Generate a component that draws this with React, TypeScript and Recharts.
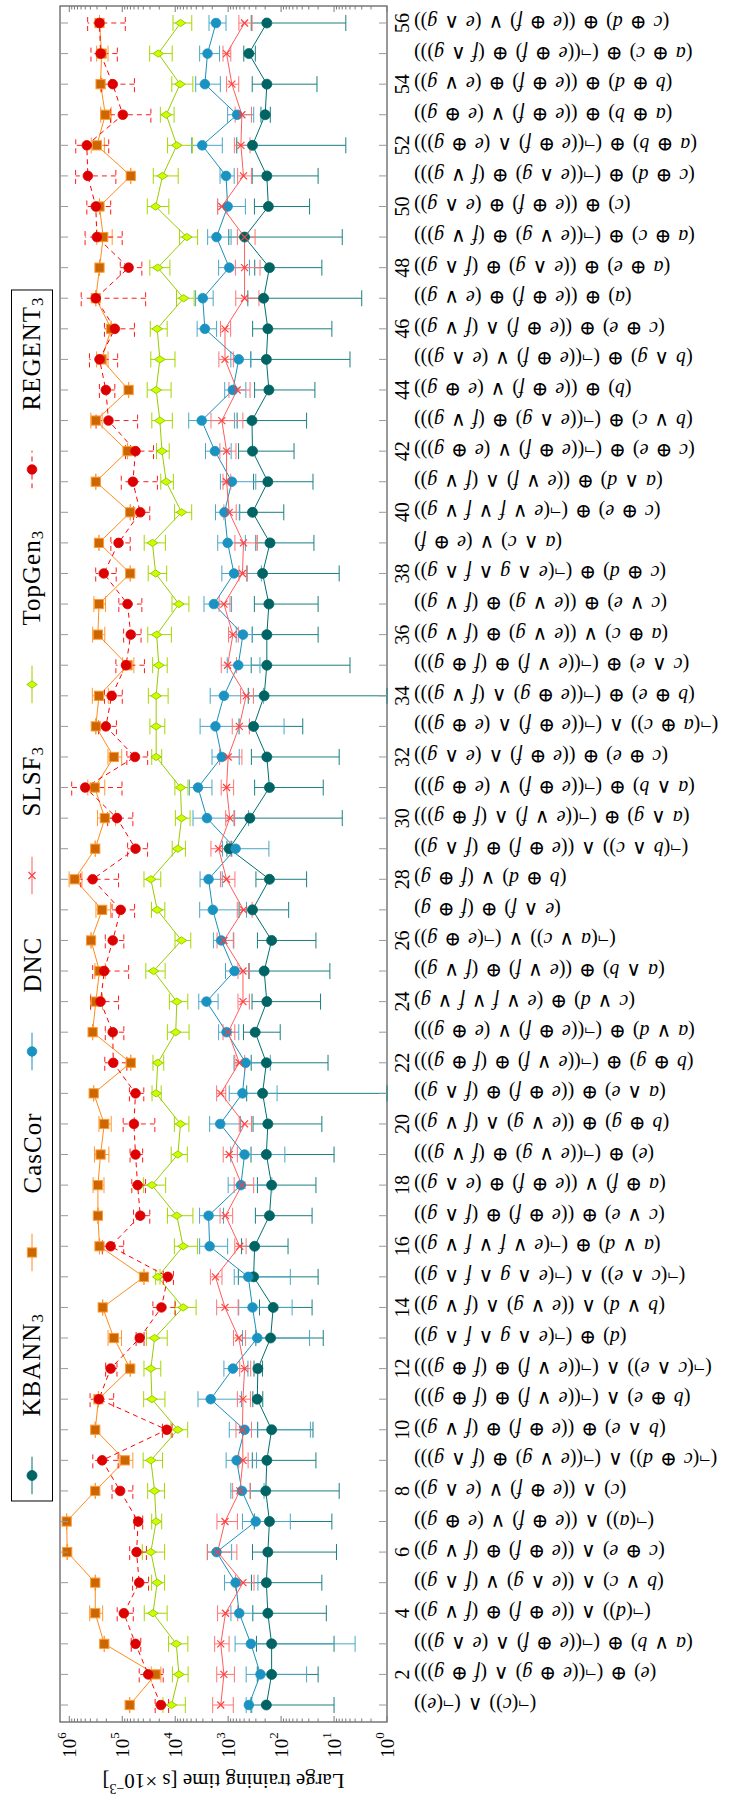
import React from 'react';
import { ComposedChart, Line, XAxis, YAxis, ErrorBar, Legend, Customized } from 'recharts';

// formulas for categories 1..56 (original reading order, drawn upside down as in the figure)
const formulas = [
  '(¬(c)) ∧ (¬(e))',
  '(e) ⊕ (¬((e ⊕ g) ∧ (f ⊕ g)))',
  '(a ∨ b) ⊕ (¬((e ⊕ f) ∧ (e ∧ g)))',
  '(¬(d)) ∧ ((e ⊕ f) ⊕ (f ∨ g))',
  '(b ∨ c) ∧ ((e ∧ g) ∨ (f ∧ g))',
  '(c ⊕ e) ∧ ((e ⊕ f) ⊕ (f ∨ g))',
  '(¬(a)) ∧ ((e ⊕ f) ∨ (e ⊕ g))',
  '(c) ∧ ((e ⊕ f) ∨ (e ∧ g))',
  '(¬(c ⊕ d)) ∧ (¬((e ∨ g) ⊕ (f ∧ g)))',
  '(b ∧ e) ⊕ ((e ⊕ f) ⊕ (f ∨ g))',
  '(b ⊕ e) ∧ (¬((e ∨ f) ⊕ (f ⊕ g)))',
  '(¬(c ∧ e)) ∧ (¬((e ∨ f) ⊕ (f ⊕ g)))',
  '(d) ⊕ (¬(e ∧ g ∧ f ∧ g))',
  '(b ∨ d) ∧ ((e ∨ g) ∧ (f ∨ g))',
  '(¬(c ∧ e)) ∧ (¬(e ∧ g ∧ f ∧ g))',
  '(a ∨ d) ⊕ (¬(e ∨ f ∨ f ∨ g))',
  '(c ∨ e) ⊕ ((e ⊕ f) ⊕ (f ∧ g))',
  '(a ⊕ f) ∨ ((e ⊕ f) ⊕ (e ∧ g))',
  '(e) ⊕ (¬((e ∨ g) ⊕ (f ∨ g)))',
  '(b ⊕ g) ⊕ ((e ∨ g) ∧ (f ∨ g))',
  '(a ∧ e) ⊕ ((e ⊕ f) ⊕ (f ∧ g))',
  '(b ⊕ g) ⊕ (¬((e ∨ f) ⊕ (f ⊕ g)))',
  '(a ∨ d) ⊕ (¬((e ⊕ f) ∨ (e ⊕ g)))',
  '(c ∨ d) ⊕ (e ∨ f ∨ f ∨ g)',
  '(a ∧ b) ⊕ ((e ∨ f) ⊕ (f ∨ g))',
  '(¬(a ∨ c)) ∨ (¬(e ⊕ g))',
  '(e ∧ f) ⊕ (f ⊕ g)',
  '(b ⊕ d) ∨ (f ⊕ g)',
  '(¬(b ∧ c)) ∧ ((e ⊕ f) ⊕ (f ∧ g))',
  '(a ∧ g) ⊕ (¬((e ∨ f) ∧ (f ⊕ g)))',
  '(a ∧ b) ⊕ (¬((e ⊕ f) ∨ (e ⊕ g)))',
  '(c ⊕ e) ⊕ ((e ⊕ f) ∧ (e ∧ g))',
  '(¬(a ⊕ c)) ∧ (¬((e ⊕ f) ∧ (e ⊕ g)))',
  '(b ⊕ e) ⊕ (¬((e ⊕ g) ∧ (f ∨ g)))',
  '(c ∧ e) ⊕ (¬((e ∨ f) ⊕ (f ⊕ g)))',
  '(a ⊕ c) ∨ ((e ∨ g) ⊕ (f ∨ g))',
  '(c ∨ e) ⊕ ((e ∨ g) ⊕ (f ∨ g))',
  '(c ⊕ d) ⊕ (¬(e ∧ g ∧ f ∧ g))',
  '(a ∧ c) ∨ (e ⊕ f)',
  '(c ⊕ e) ⊕ (¬(e ∨ f ∨ f ∨ g))',
  '(a ∧ d) ⊕ ((e ∨ f) ∧ (f ∨ g))',
  '(c ⊕ e) ⊕ (¬((e ⊕ f) ∨ (e ⊕ g)))',
  '(b ∨ c) ⊕ (¬((e ∧ g) ⊕ (f ∨ g)))',
  '(b) ⊕ ((e ⊕ f) ∨ (e ⊕ g))',
  '(b ∧ g) ⊕ (¬((e ⊕ f) ∨ (e ∧ g)))',
  '(c ⊕ e) ⊕ ((e ⊕ f) ∧ (f ∨ g))',
  '(a) ⊕ ((e ⊕ f) ⊕ (e ∨ g))',
  '(a ⊕ e) ⊕ ((e ∧ g) ⊕ (f ∧ g))',
  '(a ⊕ c) ⊕ (¬((e ∨ g) ⊕ (f ∨ g)))',
  '(c) ⊕ ((e ⊕ f) ⊕ (e ∧ g))',
  '(c ⊕ d) ⊕ (¬((e ∧ g) ⊕ (f ∨ g)))',
  '(a ⊕ b) ⊕ (¬((e ⊕ f) ∧ (e ⊕ g)))',
  '(a ⊕ b) ⊕ ((e ⊕ f) ∨ (e ⊕ g))',
  '(b ⊕ d) ⊕ ((e ⊕ f) ⊕ (e ∨ g))',
  '(a ⊕ c) ⊕ (¬((e ⊕ f) ⊕ (f ∧ g)))',
  '(c ⊕ d) ⊕ ((e ⊕ f) ∨ (e ∧ g))',
];

// mean training time and standard deviation per category
const kbannMean = [190, 151, 151, 178, 190, 178, 166, 195, 186, 151, 282, 275, 158, 141, 331, 316, 166, 151, 190, 178, 224, 190, 309, 186, 209, 151, 347, 166, 955, 389, 166, 186, 331, 209, 186, 186, 170, 224, 162, 347, 178, 347, 355, 170, 190, 178, 214, 166, 490, 174, 186, 347, 200, 186, 407, 186];
const kbannStd = [180, 131, 141, 164, 173, 169, 155, 187, 164, 126, 60, 50, 142, 115, 311, 242, 140, 129, 180, 161, 223, 177, 205, 168, 197, 129, 275, 133, 100, 382, 150, 178, 292, 208, 181, 166, 150, 216, 138, 258, 153, 290, 322, 147, 185, 167, 211, 149, 483, 145, 166, 341, 40, 165, 100, 180];

const cascorMean = [72440, 23440, 218800, 323600, 323600, 1096000, 1122000, 323600, 89130, 323600, 281800, 70790, 144500, 234400, 38900, 269200, 288400, 288400, 257000, 218800, 346700, 69180, 363100, 316200, 269200, 389000, 239900, 794300, 323600, 213800, 331100, 144500, 316200, 275400, 79430, 288400, 275400, 70790, 275400, 70790, 316200, 79430, 316200, 75860, 245500, 162200, 316200, 269200, 229100, 269200, 69180, 302000, 208900, 257000, 245500, 269200];
const cascorStd = [0, 4820, 0, 89000, 0, 0, 0, 0, 26000, 0, 0, 0, 41000, 0, 0, 0, 0, 67000, 78000, 57000, 0, 0, 0, 80000, 60000, 0, 74000, 217000, 0, 80000, 117000, 42000, 0, 92000, 19000, 74600, 68000, 0, 0, 0, 0, 0, 76000, 0, 60000, 0, 0, 0, 74000, 0, 0, 84000, 46700, 0, 60000, 0];

const dncMean = [407, 245, 372, 617, 724, 1660, 302, 550, 692, 490, 2138, 813, 282, 347, 417, 2239, 2344, 575, 490, 1413, 537, 468, 1072, 2570, 759, 1349, 1950, 2344, 724, 2512, 3715, 1318, 1738, 1202, 646, 525, 1862, 776, 1023, 1175, 851, 1778, 3162, 813, 631, 2754, 3020, 955, 1660, 1023, 1096, 3090, 676, 2754, 2455, 1698];
const dncStd = [50, 212, 368, 270, 450, 800, 235, 340, 400, 462, 1577, 390, 253, 285, 350, 1216, 1120, 425, 405, 826, 418, 308, 442, 1020, 363, 550, 1500, 1050, 554, 2100, 1690, 700, 1650, 986, 395, 178, 1000, 540, 550, 560, 550, 900, 2400, 350, 259, 1100, 1100, 559, 780, 550, 327, 1800, 347, 1350, 1000, 600];

const slsfMean = [1380, 1202, 1380, 1122, 525, 1585, 1148, 603, 525, 537, 525, 490, 631, 1148, 1738, 603, 1122, 550, 955, 490, 1380, 617, 1000, 525, 525, 1202, 513, 1072, 1514, 933, 1072, 1000, 617, 457, 1023, 813, 1202, 537, 513, 955, 1072, 1072, 1318, 676, 1148, 1148, 490, 490, 490, 1318, 513, 575, 550, 851, 1072, 490];
const slsfStd = [580, 440, 420, 462, 200, 900, 480, 220, 105, 175, 145, 115, 163, 500, 430, 145, 300, 220, 285, 128, 270, 130, 250, 127, 128, 420, 160, 327, 600, 180, 283, 450, 220, 124, 327, 170, 280, 89, 232, 250, 180, 360, 790, 290, 350, 250, 228, 240, 180, 270, 150, 188, 188, 220, 180, 137];

const topgenMean = [11750, 8511, 9550, 26300, 21880, 28840, 22900, 24550, 28840, 8913, 27540, 28840, 24550, 7079, 21380, 7079, 9333, 27540, 8913, 7943, 22900, 21380, 9772, 9333, 25700, 7586, 21880, 28840, 8913, 7586, 7943, 22900, 22900, 22900, 20420, 22390, 8511, 23440, 26920, 7586, 14790, 17780, 19500, 22900, 19500, 21880, 6918, 21380, 6026, 23440, 17380, 9333, 14790, 8128, 20890, 7943];
const topgenStd = [5300, 2800, 3780, 12100, 6000, 13000, 4900, 8600, 11500, 3100, 11900, 10100, 10400, 3050, 2000, 3300, 4700, 12400, 3000, 2430, 4500, 4900, 4300, 3550, 10200, 2500, 6200, 10100, 2500, 2350, 2200, 4880, 7170, 9280, 6260, 10570, 3000, 8950, 11600, 2700, 3950, 4800, 8160, 10950, 9400, 7700, 2530, 8800, 2250, 10260, 8600, 4600, 4300, 3480, 9490, 3075];

const regentMean = [18620, 32360, 56230, 93330, 47860, 53700, 50120, 109600, 239900, 14450, 275400, 166000, 46770, 18200, 13800, 166000, 45710, 51290, 56230, 60260, 56230, 147900, 151400, 257000, 218800, 151400, 107200, 363100, 56230, 125900, 501200, 57540, 204200, 158500, 85110, 69180, 79430, 223900, 117500, 45710, 63100, 56230, 182000, 204200, 269200, 138000, 316200, 75860, 302000, 316200, 446700, 467700, 97720, 151400, 257000, 269200];
const regentStd = [5300, 15500, 11500, 31400, 16000, 18700, 9000, 46500, 120000, 3000, 130000, 40000, 8000, 8200, 3000, 72000, 15500, 14780, 15000, 36000, 17000, 65900, 58000, 139500, 143000, 58000, 48700, 245600, 23000, 62800, 400000, 24400, 75400, 58500, 47000, 25000, 36770, 93700, 46700, 15500, 41400, 30500, 130700, 66000, 147000, 79100, 280000, 33200, 201700, 150800, 314500, 287600, 68900, 92500, 133000, 181500];

const majorTicks = [1, 10, 100, 1000, 10000, 100000, 1000000];
const tickExponents = ['0', '1', '2', '3', '4', '5', '6'];
const valueTicks = majorTicks.flatMap((t, i) =>
  i < majorTicks.length - 1 ? [1, 2, 3, 4, 5, 6, 7, 8, 9].map((k) => k * t) : [t]
);

const W = 731;
const H = 1802;
const PLOT = { left: 60, right: 387, top: 6, bottom: 1722 };
const FONT = '"Liberation Serif", "DejaVu Serif", serif';

type Shape = 'circle' | 'square' | 'diamond' | 'cross';
interface SeriesDef {
  key: string;
  name: string;
  mean: number[];
  std: number[];
  line: string;
  fill: string;
  stroke: string;
  bar: string;
  shape: Shape;
  r?: number;
  dash?: string;
}

const SERIES: SeriesDef[] = [
  { key: 'kbann', name: 'KBANN', mean: kbannMean, std: kbannStd, line: '#00706e', fill: '#006464', stroke: '#006464', bar: '#1a7f7f', shape: 'circle', r: 5 },
  { key: 'cascor', name: 'CasCor', mean: cascorMean, std: cascorStd, line: '#ff8c1a', fill: '#cc6600', stroke: '#ff9933', bar: '#ff9933', shape: 'square' },
  { key: 'dnc', name: 'DNC', mean: dncMean, std: dncStd, line: '#1b8fbb', fill: '#1a93c2', stroke: '#1a93c2', bar: '#4aa6c6', shape: 'circle', r: 4.8 },
  { key: 'slsf', name: 'SLSF', mean: slsfMean, std: slsfStd, line: '#ff5c5c', fill: '#ff4040', stroke: '#ff4040', bar: '#ff7373', shape: 'cross' },
  { key: 'topgen', name: 'TopGen', mean: topgenMean, std: topgenStd, line: '#99cc00', fill: '#ccff00', stroke: '#99cc00', bar: '#a6d600', shape: 'diamond' },
  { key: 'regent', name: 'REGENT', mean: regentMean, std: regentStd, line: '#ff0000', fill: '#dd0000', stroke: '#dd0000', bar: '#ff1a1a', shape: 'circle', r: 4.8, dash: '5 4' },
];
const SUBSCRIPT: Record<string, string> = { kbann: '3', slsf: '3', topgen: '3', regent: '3' };

const rows = formulas.map((_, i) => {
  const row: Record<string, any> = { cat: i + 1 };
  SERIES.forEach((s) => {
    const m = s.mean[i];
    const d = s.std[i];
    row[s.key] = m;
    row[`${s.key}Err`] = [Math.min(d, m - 1), d];
  });
  return row;
});

function Marker({ cx, cy, shape, fill, stroke, r = 4.6 }: any) {
  if (cx == null || cy == null || isNaN(cx) || isNaN(cy)) return <g />;
  if (shape === 'square') {
    return <rect x={cx - 4.6} y={cy - 4.6} width={9.2} height={9.2} fill={fill} stroke={stroke} strokeWidth={1} />;
  }
  if (shape === 'diamond') {
    return (
      <polygon
        points={`${cx - 5.2},${cy} ${cx},${cy - 3.6} ${cx + 5.2},${cy} ${cx},${cy + 3.6}`}
        fill={fill}
        stroke={stroke}
        strokeWidth={1}
      />
    );
  }
  if (shape === 'cross') {
    return (
      <path
        d={`M${cx - 3.5},${cy - 3.5}L${cx + 3.5},${cy + 3.5}M${cx - 3.5},${cy + 3.5}L${cx + 3.5},${cy - 3.5}`}
        stroke={stroke}
        strokeWidth={1.2}
        fill="none"
      />
    );
  }
  return <circle cx={cx} cy={cy} r={r} fill={fill} stroke={stroke} strokeWidth={0.8} />;
}

const Formula = ({ text, x, y }: { text: string; x: number; y: number }) => {
  const parts = text.split(/([a-g])/).filter((p) => p !== '');
  return (
    <text
      x={x}
      y={y}
      transform={`rotate(180 ${x} ${y})`}
      textAnchor="end"
      dominantBaseline="central"
      fontFamily={FONT}
      fontSize={20}
      wordSpacing={2}
      fill="#000"
      style={{ whiteSpace: 'pre' }}
    >
      {parts.map((p, i) =>
        /^[a-g]$/.test(p) ? (
          <tspan key={i} fontStyle="italic">
            {p}
          </tspan>
        ) : (
          <tspan key={i}>{p}</tspan>
        )
      )}
    </text>
  );
};

const CatTick = (props: any) => {
  const { y, payload } = props;
  const c = Number(payload.value);
  return (
    <g>
      <line x1={PLOT.right} x2={PLOT.right - 8} y1={y} y2={y} stroke="#9a9a9a" />
      <line x1={PLOT.left} x2={PLOT.left + 8} y1={y} y2={y} stroke="#9a9a9a" />
      {c % 2 === 0 && (
        <text
          x={402}
          y={y}
          transform={`rotate(-90 402 ${y})`}
          textAnchor="middle"
          dominantBaseline="central"
          fontFamily={FONT}
          fontSize={20}
          fill="#000"
        >
          {c}
        </text>
      )}
      <Formula text={formulas[c - 1]} x={414} y={y} />
    </g>
  );
};

const ValueTick = (props: any) => {
  const { x, payload } = props;
  const v = payload.value;
  const mi = majorTicks.indexOf(v);
  const len = mi >= 0 ? 6 : 3.5;
  const ly = 1745;
  return (
    <g>
      <line x1={x} x2={x} y1={PLOT.bottom} y2={PLOT.bottom - len} stroke="#7a7a7a" />
      <line x1={x} x2={x} y1={PLOT.top} y2={PLOT.top + len} stroke="#7a7a7a" />
      {mi >= 0 && (
        <text
          x={x}
          y={ly}
          transform={`rotate(-90 ${x} ${ly})`}
          textAnchor="middle"
          dominantBaseline="central"
          fontFamily={FONT}
          fontSize={19}
          fill="#000"
        >
          10
          <tspan dy={-8} fontSize={13}>
            {tickExponents[mi]}
          </tspan>
        </text>
      )}
    </g>
  );
};

const FrameLayer = () => {
  const cx = (PLOT.left + PLOT.right) / 2;
  const cy = 1781;
  return (
    <g>
      <rect
        x={PLOT.left}
        y={PLOT.top}
        width={PLOT.right - PLOT.left}
        height={PLOT.bottom - PLOT.top}
        fill="none"
        stroke="#555"
        strokeWidth={1.2}
      />
      <text
        x={cx}
        y={cy}
        transform={`rotate(180 ${cx} ${cy})`}
        textAnchor="middle"
        dominantBaseline="central"
        fontFamily={FONT}
        fontSize={21}
        fill="#000"
      >
        Large training time [s ×10
        <tspan dy={-8} fontSize={14}>
          −3
        </tspan>
        <tspan dy={8}>]</tspan>
      </text>
    </g>
  );
};

const LegendSample = ({ s }: { s: SeriesDef }) => (
  <svg width={16} height={38} style={{ display: 'block' }}>
    <line x1={8} x2={8} y1={0} y2={38} stroke={s.line} strokeWidth={1} strokeDasharray={s.dash} />
    <Marker cx={8} cy={19} shape={s.shape} fill={s.fill} stroke={s.stroke} r={s.r} />
  </svg>
);

const LegendBox = () => (
  <div
    style={{
      writingMode: 'vertical-rl',
      transform: 'rotate(180deg)',
      border: '1px solid #000',
      background: '#fff',
      display: 'flex',
      alignItems: 'center',
      width: 42,
      boxSizing: 'border-box',
      paddingInline: 6,
      fontFamily: FONT,
      fontSize: 25,
      letterSpacing: 1,
      lineHeight: 1,
      color: '#000',
    }}
  >
    {SERIES.map((s, i) => (
      <div key={s.key} style={{ display: 'flex', alignItems: 'center', marginInlineStart: i === 0 ? 0 : 42 }}>
        <LegendSample s={s} />
        <span style={{ marginInlineStart: 40, whiteSpace: 'nowrap' }}>
          {s.name}
          {SUBSCRIPT[s.key] && <sub style={{ fontSize: 17 }}>{SUBSCRIPT[s.key]}</sub>}
        </span>
      </div>
    ))}
  </div>
);

const App = () => (
  <div style={{ position: 'absolute', left: 0, top: 0, width: W, height: H, background: '#fff' }}>
    <ComposedChart
      width={W}
      height={H}
      layout="vertical"
      data={rows}
      margin={{ top: PLOT.top, right: 4, bottom: 20, left: PLOT.left }}
    >
      <Customized component={FrameLayer} />
      <XAxis
        type="number"
        scale="log"
        domain={[1, 1500000]}
        allowDataOverflow
        reversed
        ticks={valueTicks}
        interval={0}
        tick={<ValueTick />}
        tickLine={false}
        axisLine={false}
        tickSize={0}
        tickMargin={0}
        height={60}
      />
      <YAxis
        type="category"
        dataKey="cat"
        orientation="right"
        reversed
        interval={0}
        width={340}
        padding={{ top: 17, bottom: 17 }}
        tick={<CatTick />}
        tickLine={false}
        axisLine={false}
        tickSize={0}
        tickMargin={0}
      />
      <Legend
        content={() => <LegendBox />}
        layout="horizontal"
        align="center"
        verticalAlign="middle"
        wrapperStyle={{ left: 11, top: 289, width: 'auto', height: 'auto' }}
      />
      {SERIES.map((s) => (
        <Line
          key={s.key}
          dataKey={s.key}
          name={s.name}
          type="linear"
          stroke={s.line}
          strokeWidth={1}
          strokeDasharray={s.dash}
          isAnimationActive={false}
          activeDot={false}
          dot={(p: any) => (
            <Marker key={`${s.key}-${p.index}`} cx={p.cx} cy={p.cy} shape={s.shape} fill={s.fill} stroke={s.stroke} r={s.r} />
          )}
        >
          <ErrorBar
            dataKey={`${s.key}Err`}
            direction="x"
            stroke={s.bar}
            strokeWidth={1}
            width={8}
            strokeDasharray={s.dash}
            isAnimationActive={false}
          />
        </Line>
      ))}
    </ComposedChart>
  </div>
);

export default App;
